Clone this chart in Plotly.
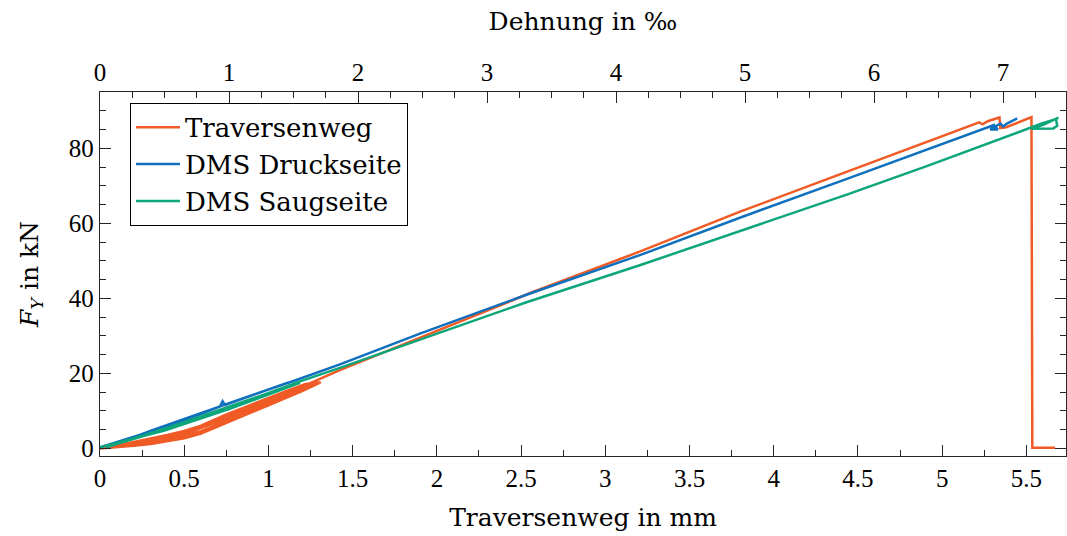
import plotly.graph_objects as go

# ---------------- data ----------------
# Traversenweg: displacement in mm vs force in kN (pre-load cycles, then loading to failure)
trav_mm = [0.0, 0.10, 0.20, 0.30, 0.40, 0.50, 0.60, 0.74, 0.87, 1.00, 1.10, 1.20, 1.31,
           1.22, 1.10, 1.00, 0.87, 0.74, 0.60, 0.50, 0.40, 0.30, 0.20, 0.10, 0.03,
           0.10, 0.20, 0.30, 0.40, 0.50, 0.60, 0.74, 0.87, 1.00, 1.10, 1.20, 1.30,
           1.22, 1.10, 1.00, 0.87, 0.74, 0.60, 0.50, 0.40, 0.30, 0.20, 0.10, 0.03,
           0.10, 0.25, 0.50, 0.74, 1.00, 1.42, 1.90, 2.57, 3.20, 3.80, 4.40, 5.10, 5.18,
           5.22, 5.24, 5.27, 5.34, 5.345, 5.38, 5.53, 5.535, 5.67]
trav_F = [0.0, 0.3, 0.7, 1.2, 1.9, 2.7, 4.0, 6.6, 9.1, 11.4, 13.3, 15.3, 17.6,
          17.2, 15.2, 13.4, 11.1, 8.9, 6.1, 4.7, 3.6, 2.6, 1.6, 0.8, 0.2,
          0.5, 1.0, 1.6, 2.4, 3.3, 4.6, 7.3, 9.7, 12.0, 13.9, 15.8, 17.6,
          16.9, 14.7, 12.9, 10.5, 8.3, 5.5, 4.1, 3.0, 2.0, 1.2, 0.5, 0.1,
          0.6, 1.6, 3.7, 7.9, 12.5, 20.8, 29.6, 41.7, 52.4, 63.1, 73.2, 84.9, 86.2,
          86.9, 86.4, 87.2, 88.2, 85.4, 85.6, 88.3, 0.2, 0.2]

# DMS Druckseite: strain in permille vs force in kN
druck_e = [0.0, 0.25, 0.50, 0.75, 0.93, 0.95, 0.97, 1.00, 1.45, 1.20, 0.80, 0.40, 0.05,
           0.50, 1.00, 1.50, 1.86, 2.48, 3.30, 4.19, 4.96, 5.80, 6.43, 6.67, 6.88,
           6.93, 6.96, 6.90, 6.98, 7.00, 7.03, 7.11]
druck_F = [0.3, 2.9, 5.7, 8.8, 11.2, 12.6, 11.6, 12.0, 17.5, 14.5, 9.6, 4.8, 0.3,
           5.9, 12.1, 18.0, 22.4, 30.6, 40.9, 51.6, 61.5, 72.0, 79.8, 82.9, 85.5,
           86.2, 85.0, 85.0, 86.6, 85.8, 86.6, 88.0]

# DMS Saugseite: strain in permille vs force in kN
saug_e = [0.0, 0.25, 0.50, 1.00, 1.55, 1.35, 1.00, 0.60, 0.30, 0.05,
          0.50, 1.00, 1.55, 1.86, 2.48, 3.30, 4.19, 5.00, 5.80, 6.43, 6.85, 7.18,
          7.30, 7.41, 7.42, 7.39, 7.22, 7.32, 7.43]
saug_F = [0.3, 2.5, 4.8, 10.5, 17.5, 15.3, 11.2, 6.4, 3.1, 0.4,
          5.0, 10.9, 17.9, 21.5, 29.0, 38.9, 48.9, 58.4, 67.8, 75.5, 80.9, 85.2,
          86.6, 87.8, 86.0, 85.3, 85.2, 86.4, 88.2]

mm_ticks = [0, 0.5, 1, 1.5, 2, 2.5, 3, 3.5, 4, 4.5, 5, 5.5]
mm_labels = ["0", "0.5", "1", "1.5", "2", "2.5", "3", "3.5", "4", "4.5", "5", "5.5"]
permille_ticks = [0, 1, 2, 3, 4, 5, 6, 7]
kn_ticks = [0, 20, 40, 60, 80]

ORANGE = "#F05A24"
BLUE = "#1070BD"
GREEN = "#0DA67A"
AX = "#262626"
TICKFONT = "Liberation Serif"
TEXTFONT = "DejaVu Serif"

fig = go.Figure()
fig.add_trace(go.Scatter(x=trav_mm, y=trav_F, mode="lines", name="Traversenweg",
                         line=dict(color=ORANGE, width=2.5), xaxis="x", yaxis="y"))
fig.add_trace(go.Scatter(x=druck_e, y=druck_F, mode="lines", name="DMS Druckseite",
                         line=dict(color=BLUE, width=2.5), xaxis="x2", yaxis="y"))
fig.add_trace(go.Scatter(x=saug_e, y=saug_F, mode="lines", name="DMS Saugseite",
                         line=dict(color=GREEN, width=2.5), xaxis="x2", yaxis="y"))

tickfont = dict(family=TICKFONT, size=25, color="black")
titlefont = dict(family=TEXTFONT, size=25, color="black")

fig.update_layout(
    width=1067, height=536,
    margin=dict(l=100, r=1, t=92, b=80),
    paper_bgcolor="white", plot_bgcolor="white",
    font=dict(family=TICKFONT, color="black"),
    showlegend=True,
    legend=dict(x=0.031, y=0.97, xanchor="left", yanchor="top",
                bgcolor="white", bordercolor="black", borderwidth=1,
                font=dict(family=TEXTFONT, size=26, color="black"),
                tracegroupgap=0, itemwidth=44),
    xaxis=dict(range=[0, 5.735], tickvals=mm_ticks, ticktext=mm_labels,
               ticks="inside", ticklen=11, tickwidth=1.2, tickcolor=AX,
               minor=dict(dtick=0.25, tick0=0, ticks="inside", ticklen=6, tickwidth=1.2, tickcolor=AX),
               showline=True, linecolor=AX, linewidth=1.4, mirror=False,
               showgrid=False, zeroline=False, tickfont=tickfont,
               title=dict(text="Traversenweg in mm", font=titlefont, standoff=17),
               automargin=False),
    xaxis2=dict(range=[0, 7.488], tickvals=permille_ticks, overlaying="x", side="top", anchor="y",
                ticks="inside", ticklen=11, tickwidth=1.2, tickcolor=AX,
                minor=dict(dtick=0.25, tick0=0, ticks="inside", ticklen=6, tickwidth=1.2, tickcolor=AX),
                showline=True, linecolor=AX, linewidth=1.4,
                showgrid=False, zeroline=False, tickfont=tickfont,
                title=dict(text="Dehnung in ‰", font=titlefont, standoff=21),
                automargin=False),
    yaxis=dict(range=[-2, 95], tickvals=kn_ticks,
               ticks="inside", ticklen=11, tickwidth=1.2, tickcolor=AX,
               minor=dict(dtick=5, tick0=0, ticks="inside", ticklen=6, tickwidth=1.2, tickcolor=AX),
               showline=True, linecolor=AX, linewidth=1.4, mirror="ticks",
               showgrid=False, zeroline=False, tickfont=tickfont,
               title=dict(text="<i>F</i><sub><i>Y</i></sub> in kN", font=titlefont, standoff=23),
               automargin=False),
)

fig.write_html("out.html")
